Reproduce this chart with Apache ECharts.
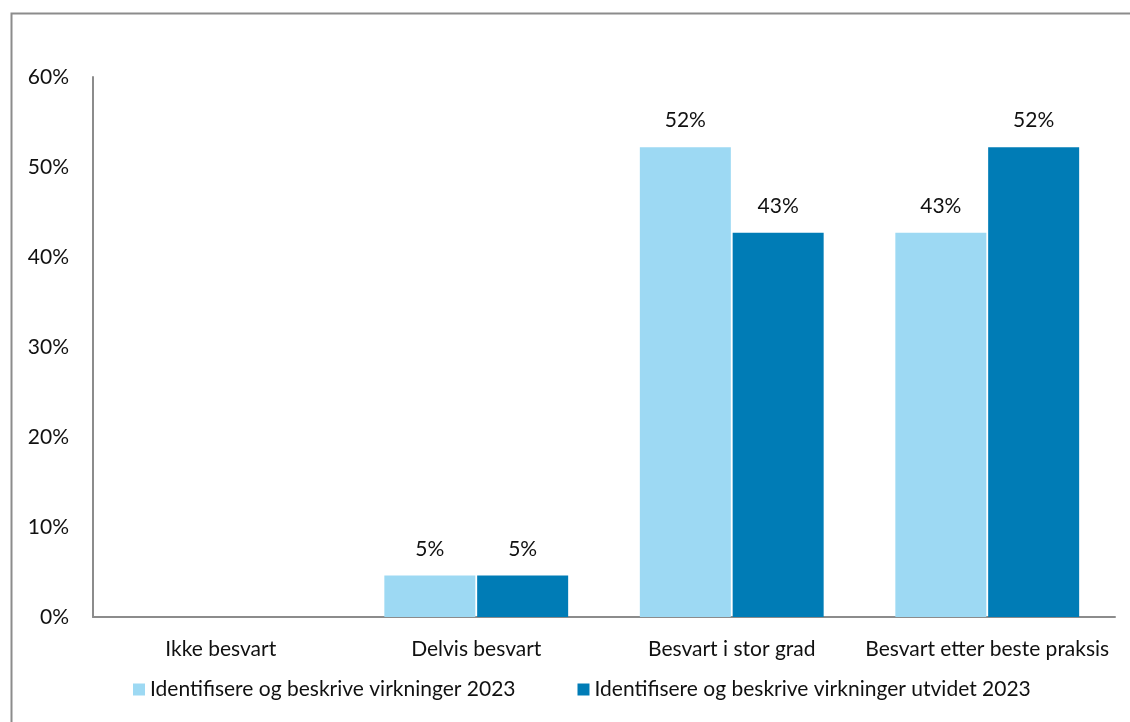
<!DOCTYPE html>
<html>
<head>
<meta charset="utf-8">
<script src="https://cdn.jsdelivr.net/npm/echarts@6/dist/echarts.min.js"></script>
<style>
  html, body { margin: 0; padding: 0; background: #fff; }
  #chart { width: 1130px; height: 722px; }
</style>
</head>
<body>
<div id="chart"></div>
<script>
// Answer categories along the x axis
const categories = ['Ikke besvart', 'Delvis besvart', 'Besvart i stor grad', 'Besvart etter beste praksis'];

// Share of answers per category (percent)
const seriesNames = [
  'Identifisere og beskrive virkninger 2023',
  'Identifisere og beskrive virkninger utvidet 2023'
];
const valuesBase = [0, 4.6, 52.2, 42.7];
const valuesExtended = [0, 4.6, 42.7, 52.2];

// Y axis range and step (percent)
const yMin = 0, yMax = 60, yStep = 10;

const FONT = 'Lato';
const FS = 21;
const colors = ['#9dd9f3', '#007cb6'];

const chart = echarts.init(document.getElementById('chart'));

const makeSeries = (name, data, color) => ({
  name,
  type: 'bar',
  data,
  barWidth: 91,
  barGap: '2%',
  itemStyle: { color },
  label: {
    show: true,
    position: 'top',
    distance: 16,
    color: '#111',
    fontFamily: FONT,
    fontSize: FS,
    formatter: p => (p.value > 0 ? Math.round(p.value) + '%' : '')
  }
});

chart.setOption({
  animation: false,
  backgroundColor: '#fff',
  textStyle: { fontFamily: FONT },
  graphic: [{
    type: 'rect',
    left: 9, top: 11,
    shape: { width: 1200, height: 800 },
    style: { fill: 'none', stroke: '#8c8c8c', lineWidth: 2 },
    silent: true
  }],
  grid: { left: 93, right: 15, top: 77, bottom: 105, containLabel: false },
  legend: {
    bottom: 17,
    left: 128,
    itemWidth: 12,
    itemHeight: 12,
    itemGap: 62,
    icon: 'rect',
    textStyle: { fontFamily: FONT, fontSize: FS, color: '#111' },
    data: seriesNames
  },
  xAxis: {
    type: 'category',
    data: categories,
    axisLine: { lineStyle: { color: '#8c8c8c', width: 2 } },
    axisTick: { show: false },
    axisLabel: { interval: 0, color: '#111', fontFamily: FONT, fontSize: FS, margin: 22 }
  },
  yAxis: {
    type: 'value',
    min: yMin, max: yMax, interval: yStep,
    axisLine: { show: true, lineStyle: { color: '#8c8c8c', width: 2 } },
    axisTick: { show: false },
    splitLine: { show: false },
    axisLabel: { color: '#111', fontFamily: FONT, fontSize: FS, margin: 24, formatter: v => v + '%' }
  },
  series: [
    makeSeries(seriesNames[0], valuesBase, colors[0]),
    makeSeries(seriesNames[1], valuesExtended, colors[1])
  ]
});
</script>
</body>
</html>
